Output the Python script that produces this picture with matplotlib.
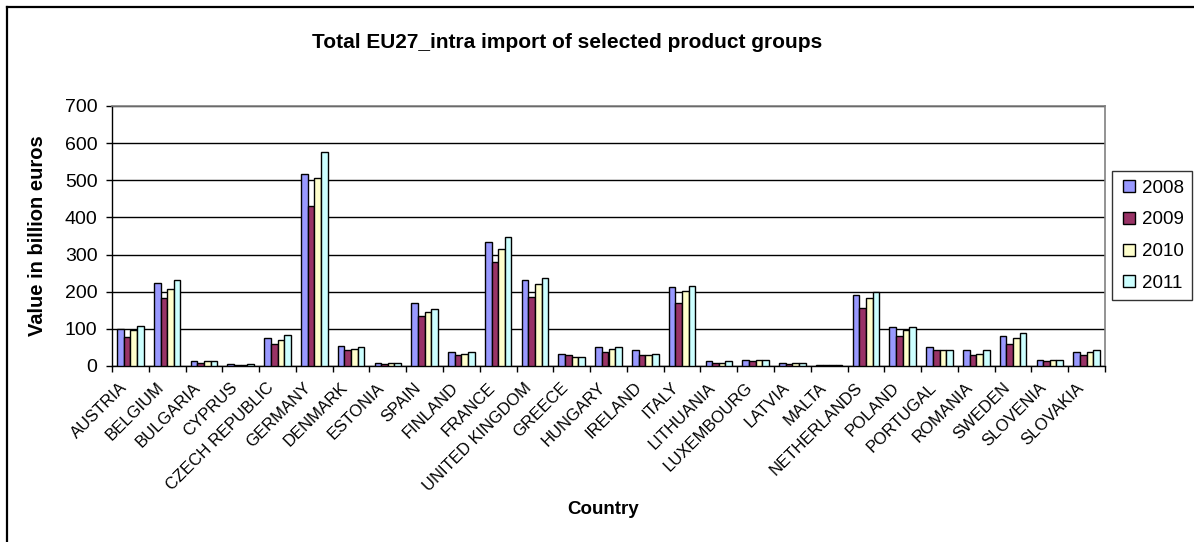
import numpy as np
import matplotlib
matplotlib.use("Agg")
import matplotlib.pyplot as plt
from matplotlib.lines import Line2D

plt.rcParams['font.family'] = ['Liberation Sans', 'DejaVu Sans']

countries = ['AUSTRIA', 'BELGIUM', 'BULGARIA', 'CYPRUS', 'CZECH REPUBLIC', 'GERMANY',
             'DENMARK', 'ESTONIA', 'SPAIN', 'FINLAND', 'FRANCE', 'UNITED KINGDOM',
             'GREECE', 'HUNGARY', 'IRELAND', 'ITALY', 'LITHUANIA', 'LUXEMBOURG',
             'LATVIA', 'MALTA', 'NETHERLANDS', 'POLAND', 'PORTUGAL', 'ROMANIA',
             'SWEDEN', 'SLOVENIA', 'SLOVAKIA']
years = ['2008', '2009', '2010', '2011']

v2008 = [100, 223, 13, 5, 75, 517, 54, 8, 170, 37, 335, 232, 33, 51, 42, 212, 13, 17, 9, 4, 191, 104, 51, 42, 80, 17, 37]
v2009 = [79, 183, 8, 4, 59, 431, 42, 5, 134, 30, 281, 186, 29, 37, 29, 170, 8, 13, 5, 4, 157, 80, 42, 29, 59, 13, 29]
v2010 = [97, 207, 13, 4, 71, 505, 47, 8, 145, 33, 315, 220, 25, 46, 29, 203, 8, 17, 8, 4, 182, 98, 42, 33, 75, 17, 37]
v2011 = [108, 231, 13, 5, 83, 576, 51, 8, 154, 37, 348, 236, 25, 51, 33, 215, 13, 17, 8, 4, 199, 104, 42, 42, 88, 17, 42]
series = [v2008, v2009, v2010, v2011]
colors = ['#9999FF', '#993366', '#FFFFCC', '#CCFFFF']

W, H = 1194, 542
fig = plt.figure(figsize=(W / 100, H / 100), dpi=100)
ax = fig.add_axes([112 / W, 1 - 366 / H, (1105 - 112) / W, (366 - 106) / H])

x = np.arange(len(countries))
bw = 0.181
for i, (vals, c) in enumerate(zip(series, colors)):
    ax.bar(x + (i - 1.5) * bw, vals, width=bw, color=c, edgecolor='black',
           linewidth=1.0, zorder=3)

ax.set_xlim(-0.5, len(countries) - 0.5)
ax.set_ylim(0, 700)
ax.set_yticks(range(0, 701, 100))
ax.yaxis.grid(True, color='black', linewidth=1.0, zorder=0)
ax.tick_params(axis='y', labelsize=14, direction='out', length=4.5, width=1, pad=6)

# labels sit a little left of the group centre, like the Excel original
ax.set_xticks(x - 0.3)
ax.set_xticklabels(countries, rotation=45, ha='right', va='top', rotation_mode='anchor', fontsize=12)
ax.set_xticks(np.arange(-0.5, len(countries), 1), minor=True)
ax.tick_params(axis='x', which='major', length=0, pad=10)
ax.tick_params(axis='x', which='minor', length=4.5, width=1, direction='out')

for s in ['top', 'right']:
    ax.spines[s].set_color('#808080')
    ax.spines[s].set_linewidth(1.2)
for s in ['left', 'bottom']:
    ax.spines[s].set_color('black')
    ax.spines[s].set_linewidth(1.0)

fig.text(567 / W, 1 - 42 / H, 'Total EU27_intra import of selected product groups',
         ha='center', va='center', fontsize=15, fontweight='bold')
fig.text(38 / W, 1 - 236 / H, 'Value in billion euros', ha='center', va='center',
         rotation=90, fontsize=14.5, fontweight='bold')
fig.text(603 / W, 1 - 510 / H, 'Country', ha='center', va='center',
         fontsize=13.5, fontweight='bold')

handles = [Line2D([], [], linestyle='none', marker='s', markersize=8, markerfacecolor=c,
                  markeredgecolor='black', markeredgewidth=1.0) for c in colors]
leg = fig.legend(handles, years, loc='upper left', bbox_to_anchor=(1112 / W, 1 - 171 / H),
                 fontsize=13.5, frameon=True, fancybox=False, handlelength=0.9,
                 handletextpad=0.25, labelspacing=0.78, borderpad=0.45, borderaxespad=0)
leg.get_frame().set_edgecolor('black')
leg.get_frame().set_linewidth(1.0)

# outer chart frame (only left and top are visible in the crop)
fig.add_artist(Line2D([7 / W, 7 / W], [0, 1 - 7 / H], color='black', linewidth=1.6))
fig.add_artist(Line2D([7 / W, 1], [1 - 7 / H, 1 - 7 / H], color='black', linewidth=1.6))

fig.savefig('out.png', dpi=100)
